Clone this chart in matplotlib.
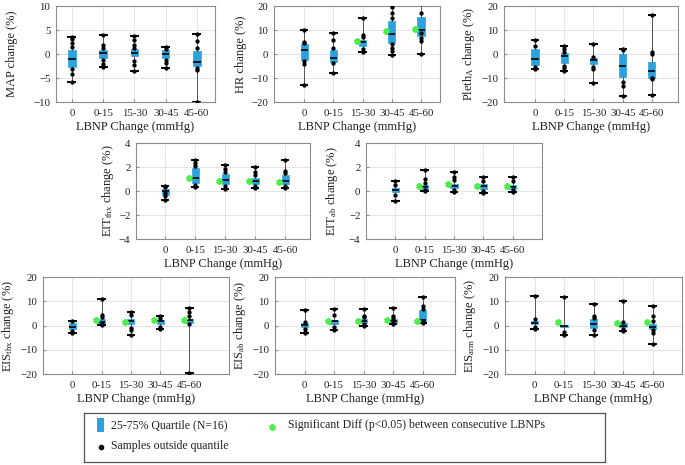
import matplotlib
matplotlib.use('Agg')
import matplotlib.pyplot as plt
from matplotlib.patches import Rectangle

plt.rcParams['font.family'] = ['Liberation Serif', 'DejaVu Serif']
plt.rcParams['mathtext.fontset'] = 'custom'
plt.rcParams['mathtext.rm'] = 'Liberation Serif'
plt.rcParams['mathtext.it'] = 'Liberation Serif:italic'

categories = ['0', '0-15', '15-30', '30-45', '45-60']

# MAP
map_q1 = [-2.7, -0.8, -0.5, -0.8, -2.6]
map_med = [-1.1, 0.2, 0.2, -0.1, -1.7]
map_q3 = [0.9, 0.8, 1.0, 0.8, 0.6]
map_lo = [-5.9, -2.8, -3.5, -3.0, -10.0]
map_hi = [3.5, 4.0, 3.7, 1.5, 4.1]
map_pts = [[3.5, 3.1, 2.3, 1.4, -3.1, -4.2, -5.9], [4.0, 1.8, 1.2, -1.3, -2.1, -2.8],
           [3.7, 3.0, 1.8, 1.2, -1.5, -2.3, -3.5], [1.5, 1.1, -1.2, -1.8, -3.0],
           [4.1, 2.7, 1.2, -2.9, -3.3, -10.0]]
map_sig = [None, None, None, None, None]

# HR
hr_q1 = [-2.6, -3.3, 3.2, 4.7, 7.5]
hr_med = [1.5, -1.5, 5.0, 8.5, 10.2]
hr_q3 = [4.3, 1.5, 6.0, 13.6, 15.5]
hr_lo = [-13.0, -7.9, 0.8, -0.3, -0.1]
hr_hi = [10.2, 8.8, 14.8, 21.0, 21.0]
hr_pts = [[10.2, 5.2, 4.6, -3.0, -4.3, -13.0], [8.8, 5.8, 2.5, -3.8, -7.9],
          [14.8, 8.0, 7.0, 2.0, 1.0], [19.5, 17.0, 15.0, 4.0, 2.5, 1.2, -0.3],
          [17.2, 8.8, 6.5, 5.5, -0.1]]
hr_sig = [None, None, 5.3, 9.6, 10.6]

# Pleth_A
pl_q1 = [-4.7, -3.8, -4.3, -9.6, -9.9]
pl_med = [-1.9, -0.7, -2.4, -4.9, -7.2]
pl_q3 = [2.0, 0.6, -1.5, 0.1, -3.3]
pl_lo = [-6.3, -7.2, -12.1, -17.4, -16.9]
pl_hi = [6.0, 3.3, 4.3, 2.2, 16.3]
pl_pts = [[6.0, 3.5, -5.6, -6.3], [3.3, 2.0, 1.0, -5.0, -6.0, -7.2],
          [4.3, -1.2, -5.5, -6.2, -12.1], [2.2, 1.5, -11.5, -13.5, -17.4],
          [16.3, 1.0, 0.2, -10.0, -10.6, -16.9]]
pl_sig = [None, None, None, None, None]

# EIT_thx
eitt_q1 = [-0.3, 0.67, 0.6, 0.6, 0.6]
eitt_med = [0.0, 1.1, 0.9, 0.85, 0.8]
eitt_q3 = [0.2, 1.9, 1.4, 1.1, 1.3]
eitt_lo = [-0.78, 0.33, 0.2, 0.25, 0.25]
eitt_hi = [0.4, 2.6, 2.2, 2.0, 2.6]
eitt_pts = [[0.4, 0.3, -0.2, -0.45, -0.78], [2.6, 2.3, 2.1, 0.5, 0.33],
            [2.2, 1.8, 1.6, 0.4, 0.2], [2.0, 1.6, 1.35, 0.45, 0.25],
            [2.6, 1.7, 1.5, 0.45, 0.25]]
eitt_sig = [None, 1.1, 0.85, 0.8, 0.75]

# EIT_ab
eita_q1 = [-0.08, 0.2, 0.25, 0.15, 0.15]
eita_med = [0.05, 0.33, 0.45, 0.4, 0.33]
eita_q3 = [0.25, 0.5, 0.6, 0.6, 0.5]
eita_lo = [-0.8, 0.03, -0.05, -0.2, -0.1]
eita_hi = [0.8, 1.75, 1.6, 1.15, 1.2]
eita_pts = [[0.8, 0.5, -0.3, -0.8], [1.75, 1.0, 0.7, 0.1, 0.03],
            [1.6, 1.2, 0.9, 0.1, -0.05], [1.15, 0.8, 0.0, -0.1, -0.2],
            [1.2, 0.8, 0.05, -0.1]]
eita_sig = [None, 0.45, 0.6, 0.4, 0.45]

# EIS_thx
eist_q1 = [-1.6, 0.7, 0.5, 0.7, 1.0]
eist_med = [-0.6, 1.4, 1.7, 1.7, 2.1]
eist_q3 = [1.0, 2.6, 2.6, 2.3, 2.8]
eist_lo = [-3.2, 0.3, -3.9, -1.4, -19.7]
eist_hi = [1.7, 10.9, 5.4, 4.1, 7.2]
eist_pts = [[1.7, -2.1, -3.2], [10.9, 4.5, 3.5, 0.5, 0.3],
            [5.4, 4.3, -1.0, -2.0, -3.9], [4.1, 3.2, -0.5, -1.4],
            [7.2, 5.5, 4.0, 0.5, -19.7]]
eist_sig = [None, 2.1, 1.5, 2.1, 2.1]

# EIS_ab
eisa_q1 = [-0.7, 0.7, 1.2, 1.2, 1.2]
eisa_med = [0.1, 1.7, 1.8, 1.9, 2.1]
eisa_q3 = [1.0, 2.3, 2.8, 2.6, 6.5]
eisa_lo = [-3.2, -1.8, -0.4, 0.5, 1.0]
eisa_hi = [6.2, 6.8, 6.9, 7.2, 11.7]
eisa_pts = [[6.2, 1.5, -1.5, -2.5, -3.2], [6.8, 4.5, -0.5, -1.8],
            [6.9, 4.0, 3.5, 0.8, -0.4], [7.2, 4.0, 3.0, 1.0, 0.5],
            [11.7, 8.0, 7.0, 1.5, 1.0]]
eisa_sig = [None, 1.9, 1.7, 2.1, 1.9]

# EIS_arm
eism_q1 = [0.6, -0.8, -1.1, -0.7, -1.5]
eism_med = [1.2, -0.1, 0.7, -0.1, -0.5]
eism_q3 = [1.9, 0.3, 2.6, 1.0, 0.7]
eism_lo = [-1.4, -3.9, -4.1, -2.1, -7.6]
eism_hi = [12.3, 11.7, 9.0, 9.9, 7.9]
eism_pts = [[12.3, 2.5, -0.5, -1.4], [11.7, -2.5, -3.9],
            [9.0, 4.0, 3.0, -2.0, -4.1], [9.9, 1.5, -1.5, -2.1],
            [7.9, 4.0, 2.0, -2.0, -3.0, -7.6]]
eism_sig = [None, 1.4, None, 1.1, 1.6]

BLUE = '#2ba2de'
GREEN = '#4cf04c'
W, H = 685, 465

fig = plt.figure(figsize=(W / 100, H / 100), dpi=100)


def px_axes(x0, y0, x1, y1):
    return fig.add_axes([x0 / W, 1 - y1 / H, (x1 - x0) / W, (y1 - y0) / H])


panels = [
    # pixel box, xlim, ylim, yticks, ylabel, ylabel pad, data
    ((56, 6, 215, 102), (0.49, 5.58), (-10, 10), [-10, -5, 0, 5, 10], 'MAP change (%)', 11,
     (map_q1, map_med, map_q3, map_lo, map_hi, map_pts, map_sig)),
    ((274, 6, 440, 102), (-0.03, 5.65), (-20, 20), [-20, -10, 0, 10, 20], 'HR change (%)', 3,
     (hr_q1, hr_med, hr_q3, hr_lo, hr_hi, hr_pts, hr_sig)),
    ((504, 6, 678, 102), (-0.06, 5.89), (-20, 20), [-20, -10, 0, 10, 20],
     r'Pleth$_\mathrm{A}$ change (%)', 3,
     (pl_q1, pl_med, pl_q3, pl_lo, pl_hi, pl_pts, pl_sig)),
    ((136, 143, 310, 239), (0.03, 5.83), (-4, 4), [-4, -2, 0, 2, 4],
     r'EIT$_\mathrm{thx}$ change (%)', 2,
     (eitt_q1, eitt_med, eitt_q3, eitt_lo, eitt_hi, eitt_pts, eitt_sig)),
    ((366, 143, 542, 239), (0.0, 6.0), (-4, 4), [-4, -2, 0, 2, 4],
     r'EIT$_\mathrm{ab}$ change (%)', 6,
     (eita_q1, eita_med, eita_q3, eita_lo, eita_hi, eita_pts, eita_sig)),
    ((43, 277, 229, 374), (0.0, 6.35), (-20, 20), [-20, -10, 0, 10, 20],
     r'EIS$_\mathrm{thx}$ change (%)', 3,
     (eist_q1, eist_med, eist_q3, eist_lo, eist_hi, eist_pts, eist_sig)),
    ((275, 277, 455, 374), (0.0, 6.1), (-20, 20), [-20, -10, 0, 10, 20],
     r'EIS$_\mathrm{ab}$ change (%)', 3,
     (eisa_q1, eisa_med, eisa_q3, eisa_lo, eisa_hi, eisa_pts, eisa_sig)),
    ((505, 277, 682, 374), (0.0, 6.0), (-20, 20), [-20, -10, 0, 10, 20],
     r'EIS$_\mathrm{arm}$ change (%)', 3,
     (eism_q1, eism_med, eism_q3, eism_lo, eism_hi, eism_pts, eism_sig)),
]

positions = list(range(1, len(categories) + 1))

for box, xlim, ylim, yticks, ylabel, ypad, data in panels:
    q1, med, q3, lo, hi, pts, sig = data
    ax = px_axes(*box)
    stats = [dict(q1=a, med=b, q3=c, whislo=d, whishi=e, fliers=[])
             for a, b, c, d, e in zip(q1, med, q3, lo, hi)]
    ax.bxp(stats, positions=positions, widths=0.24, patch_artist=True,
           showfliers=False,
           boxprops=dict(facecolor=BLUE, edgecolor=BLUE, linewidth=0.5),
           medianprops=dict(color='black', linewidth=1.2),
           whiskerprops=dict(color='#555555', linewidth=0.7),
           capprops=dict(color='black', linewidth=1.4),
           capwidths=0.22, zorder=3)
    for p, vals in zip(positions, pts):
        ax.plot([p] * len(vals), vals, 'o', color='black', markersize=2.1,
                zorder=4, clip_on=True)
    for p, s in zip(positions, sig):
        if s is not None:
            ax.plot(p - 0.2, s, marker=(6, 2, 0), color=GREEN, markersize=4.5,
                    markeredgewidth=1.5, zorder=4)
    ax.set_xlim(*xlim)
    ax.set_ylim(*ylim)
    ax.set_xticks(positions)
    ax.set_xticklabels(categories)
    ax.set_yticks(yticks)
    ax.grid(True, color='#e4e4e4', linewidth=0.7, zorder=0)
    ax.set_axisbelow(True)
    for sp in ax.spines.values():
        sp.set_color('#8c8c8c')
        sp.set_linewidth(0.8)
    ax.tick_params(axis='both', labelsize=7.8, colors='#8c8c8c', labelcolor='#222222',
                   length=2, direction='in')
    ax.tick_params(axis='x', pad=5)
    ax.tick_params(axis='y', pad=4)
    ax.set_xlabel('LBNP Change (mmHg)', fontsize=9, color='#222222', labelpad=2)
    ax.set_ylabel(ylabel, fontsize=9, color='#222222', labelpad=ypad)

# Legend box
lg = px_axes(84, 413, 605, 462)
lg.set_xlim(84, 605)
lg.set_ylim(462, 413)
lg.set_xticks([])
lg.set_yticks([])
for sp in lg.spines.values():
    sp.set_color('#555555')
    sp.set_linewidth(0.9)
lg.add_patch(Rectangle((97, 418), 7, 14, facecolor=BLUE, edgecolor='none'))
lg.text(111, 425, '25-75% Quartile (N=16)', fontsize=8.5, va='center', ha='left',
        color='#222222')
lg.plot([272], [427], marker=(6, 2, 0), color=GREEN, markersize=4.5, markeredgewidth=1.5)
lg.text(288, 425, 'Significant Diff (p<0.05) between consecutive LBNPs', fontsize=8.5,
        va='center', ha='left', color='#222222')
lg.plot([101], [447], 'o', color='black', markersize=3)
lg.text(111, 446, 'Samples outside quantile', fontsize=8.5, va='center', ha='left',
        color='#222222')

fig.savefig('out.png', dpi=100)
